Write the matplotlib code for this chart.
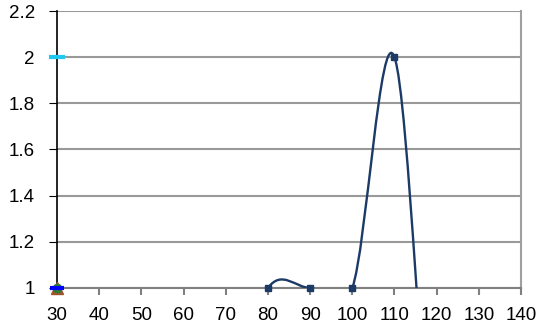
import matplotlib
matplotlib.use("Agg")
import matplotlib.pyplot as plt
from matplotlib.path import Path
from matplotlib.patches import PathPatch

plt.rcParams["font.family"] = ["Liberation Sans", "DejaVu Sans"]

# main smoothed series (points below 1 fall outside the axis)
main_x = [70, 80, 90, 100, 110, 120, 130]
main_y = [0.5, 1, 1, 1, 2, 0, 0]
shown_x = [80, 90, 100, 110]
shown_y = [1, 1, 1, 2]

# single-point series at x = 30
single_pts = [
    # (x, y, marker, color, size)
    (30, 1, "^", "#a0522d", 9),
    (30, 1, "o", "#2e7d32", 6),
    (30, 1, "_", "#0000ff", 10),
    (30, 2, "_", "#1ec8f0", 11),
]

x_ticks = list(range(30, 141, 10))
y_ticks = [1, 1.2, 1.4, 1.6, 1.8, 2, 2.2]
y_labels = ["1", "1.2", "1.4", "1.6", "1.8", "2", "2.2"]


def smooth_path(xs, ys):
    # Excel-style bezier smoothing: control points from neighbouring points
    pts = list(zip(xs, ys))
    verts = [pts[0]]
    codes = [Path.MOVETO]
    n = len(pts)
    for i in range(n - 1):
        p0 = pts[i - 1] if i > 0 else pts[i]
        p1 = pts[i]
        p2 = pts[i + 1]
        p3 = pts[i + 2] if i + 2 < n else pts[i + 1]
        c1 = (p1[0] + (p2[0] - p0[0]) / 6, p1[1] + (p2[1] - p0[1]) / 6)
        c2 = (p2[0] - (p3[0] - p1[0]) / 6, p2[1] - (p3[1] - p1[1]) / 6)
        verts += [c1, c2, p2]
        codes += [Path.CURVE4] * 3
    return Path(verts, codes)


fig = plt.figure(figsize=(5.44, 3.33), dpi=100)
ax = fig.add_axes([57 / 544, 1 - 288 / 333, (521 - 57) / 544, (288 - 11) / 333])

ax.set_xlim(30, 140)
ax.set_ylim(1, 2.2)

line_col = "#1b3a66"
patch = PathPatch(smooth_path(main_x, main_y), facecolor="none",
                  edgecolor=line_col, lw=1.7, zorder=3)
ax.add_patch(patch)
ax.plot(shown_x, shown_y, ls="none", marker="s", ms=5, color=line_col,
        zorder=4, clip_on=False)

for x, y, m, c, s in single_pts:
    ax.plot([x], [y], ls="none", marker=m, ms=s, color=c, mew=3 if m == "_" else 1,
            zorder=5, clip_on=False)

ax.set_xticks(x_ticks)
ax.set_yticks(y_ticks)
ax.set_yticklabels(y_labels)
ax.grid(True, axis="y", color="#999999", lw=1.5)
ax.set_axisbelow(True)

ax.spines["top"].set_visible(False)
ax.spines["right"].set_color("#a0a0a0")
ax.spines["right"].set_linewidth(1.5)
ax.spines["left"].set_color("black")
ax.spines["left"].set_linewidth(1.2)
ax.spines["bottom"].set_color("#808080")
ax.spines["bottom"].set_linewidth(1.5)

ax.tick_params(axis="y", direction="out", length=6, color="black", labelsize=13.5, pad=10)
ax.tick_params(axis="x", direction="out", length=5, color="#808080", width=1.5,
               labelsize=13.5, pad=9)

fig.savefig("out.png", dpi=100)
